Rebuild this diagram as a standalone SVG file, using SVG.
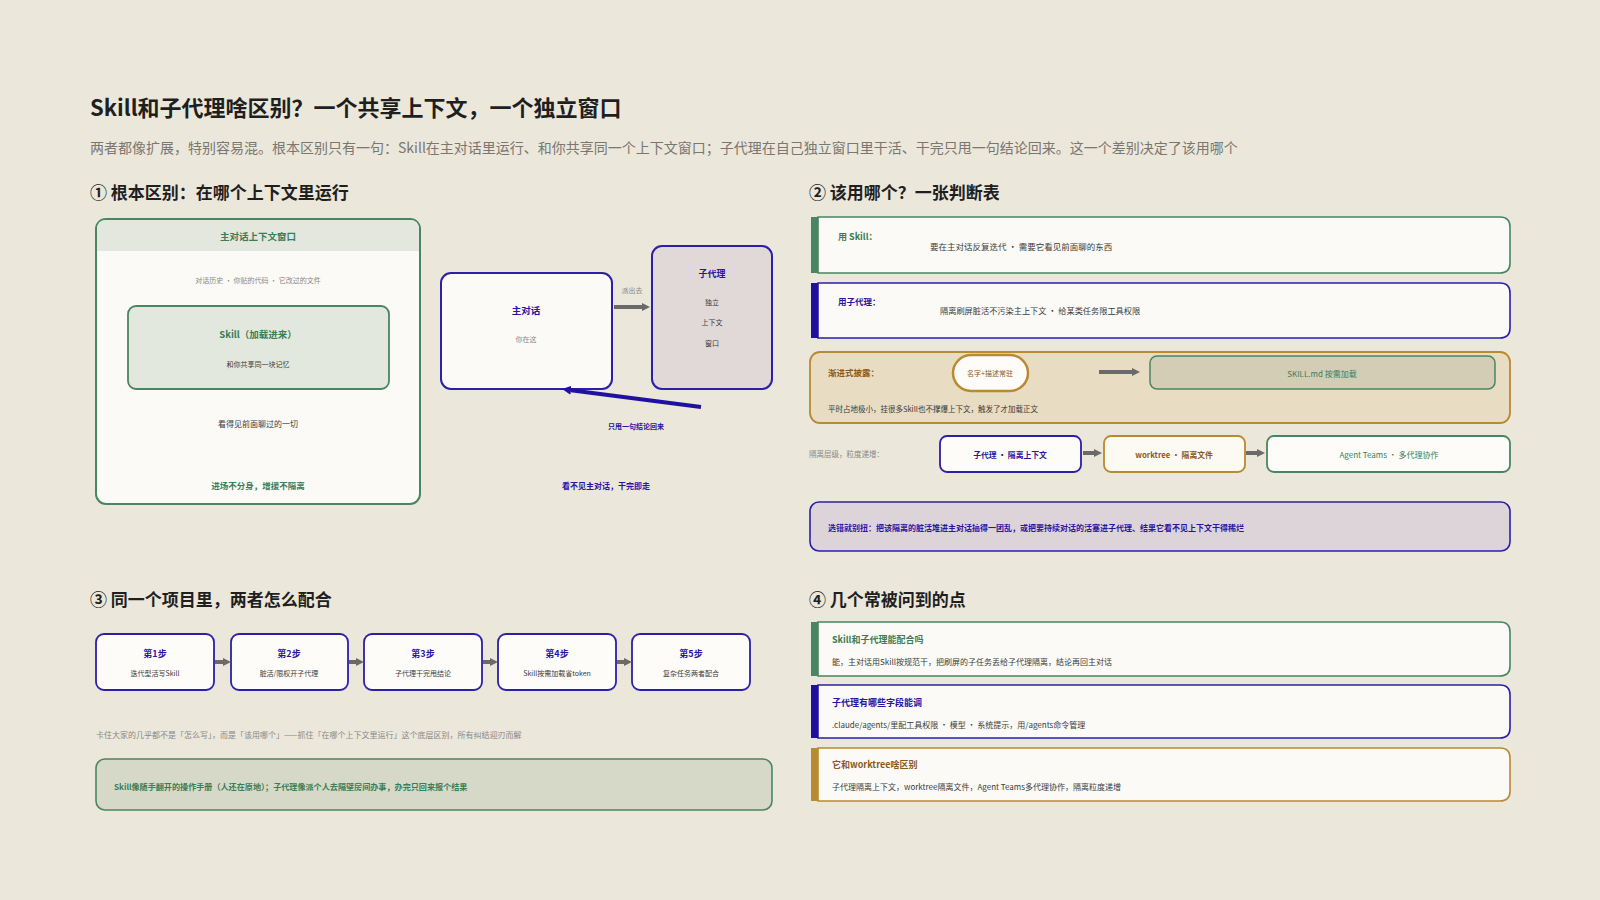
<svg xmlns="http://www.w3.org/2000/svg" width="1600" height="900" viewBox="0 0 1600 900">
<defs>
<style>
text{font-family:"Noto Sans CJK SC","Noto Sans",sans-serif;dominant-baseline:central}
.h1{font-size:22px;font-weight:700;fill:#1f1f1f}
.sub{font-size:14px;fill:#7a7670}
.h2{font-size:17px;font-weight:700;fill:#1f1f1f}
.g{fill:#3a7d57}.i{fill:#2a14a0}.a{fill:#8a5a1c}.d{fill:#3a3a3a}.m{fill:#888}
.b{font-weight:700}
.c{text-anchor:middle}
.gs{stroke:#4a8562}.is{stroke:#2d1fa8}.as{stroke:#b98a30}
.card{fill:#fbfaf6;stroke-width:1.6}
.arr{stroke:#6a6a6a;stroke-width:4;fill:none}
</style>
<marker id="ah" viewBox="0 0 10 10" refX="0" refY="5" markerUnits="userSpaceOnUse" markerWidth="8" markerHeight="8" orient="auto"><path d="M0,0L10,5L0,10z" fill="#6a6a6a"/></marker>
<marker id="ahi" viewBox="0 0 10 10" refX="0" refY="5" markerUnits="userSpaceOnUse" markerWidth="9" markerHeight="9" orient="auto"><path d="M0,0L10,5L0,10z" fill="#2010a0"/></marker>
</defs>
<rect width="1600" height="900" fill="#ebe7db"/>

<text class="h1" x="90" y="106">Skill和子代理啥区别？一个共享上下文，一个独立窗口</text>
<text class="sub" x="90" y="147">两者都像扩展，特别容易混。根本区别只有一句：Skill在主对话里运行、和你共享同一个上下文窗口；子代理在自己独立窗口里干活、干完只甩一句结论回来。这一个差别决定了该用哪个</text>

<text class="h2" x="90" y="191">① 根本区别：在哪个上下文里运行</text>
<text class="h2" x="809" y="191">② 该用哪个？一张判断表</text>
<text class="h2" x="90" y="598">③ 同一个项目里，两者怎么配合</text>
<text class="h2" x="809" y="598">④ 几个常被问到的点</text>

<!-- Section 1 -->
<g id="main-context">
<rect x="96" y="219" width="324" height="285" rx="10" fill="#fbfaf6" stroke="#4a8562" stroke-width="2"/>
<path d="M97,251 V229 Q97,220 106,220 H410 Q419,220 419,229 V251 Z" fill="#e3e7de"/>
<text class="g b c" x="258" y="236" font-size="9.5">主对话上下文窗口</text>
<text class="m c" x="258" y="280" font-size="7">对话历史 · 你贴的代码 · 它改过的文件</text>
<text class="d c" x="258" y="423" font-size="8">看得见前面聊过的一切</text>
<text class="g b c" x="258" y="485" font-size="8.5">进场不分身，增援不隔离</text>
</g>
<g id="skill-box">
<rect x="128" y="306" width="261" height="83" rx="8" fill="#e3e8df" stroke="#4a8562" stroke-width="1.8"/>
<text class="g b c" x="258" y="334" font-size="9.5">Skill（加载进来）</text>
<text class="d c" x="258" y="364" font-size="7">和你共享同一块记忆</text>
</g>
<g id="main-dialog">
<rect x="441" y="273" width="171" height="116" rx="10" fill="#fbfaf7" stroke="#2d1fa8" stroke-width="2"/>
<text class="i b c" x="526" y="310" font-size="9.5">主对话</text>
<text class="m c" x="526" y="339" font-size="7">你在这</text>
</g>
<g id="subagent">
<rect x="652" y="246" width="120" height="143" rx="10" fill="#e0d9d7" stroke="#2d1fa8" stroke-width="2"/>
<text class="i b c" x="712" y="273" font-size="9">子代理</text>
<text class="d c" x="712" y="302" font-size="7">独立</text>
<text class="d c" x="712" y="322" font-size="7">上下文</text>
<text class="d c" x="712" y="343" font-size="7">窗口</text>
</g>
<g id="connectors-1">
<line class="arr" x1="614" y1="307" x2="642" y2="307" marker-end="url(#ah)"/>
<text class="m c" x="632" y="290" font-size="7">派出去</text>
<line x1="701" y1="407" x2="571" y2="390.2" stroke="#2010a0" stroke-width="4" marker-end="url(#ahi)"/>
<text class="i b c" x="636" y="426" font-size="7">只甩一句结论回来</text>
<text class="i b c" x="606" y="485" font-size="8">看不见主对话，干完即走</text>
</g>

<!-- Section 2 -->
<g id="use-skill">
<path class="card gs" d="M818,217 H1500 Q1510,217 1510,227 V263 Q1510,273 1500,273 H818 Z"/>
<rect x="811" y="217" width="7" height="56" fill="#4a8562"/>
<text class="g b" x="838" y="236" font-size="9">用 Skill：</text>
<text class="d" x="930" y="246" font-size="8.5">要在主对话反复迭代 · 需要它看见前面聊的东西</text>
</g>
<g id="use-subagent">
<path class="card is" d="M818,283 H1500 Q1510,283 1510,293 V328 Q1510,338 1500,338 H818 Z"/>
<rect x="811" y="283" width="7" height="55" fill="#2010a0"/>
<text class="i b" x="838" y="301" font-size="8.5">用子代理：</text>
<text class="d" x="940" y="310" font-size="8.2">隔离刷屏脏活不污染主上下文 · 给某类任务限工具权限</text>
</g>
<g id="progressive">
<rect x="810" y="352" width="700" height="71" rx="10" fill="#e8dcc2" stroke="#b98a30" stroke-width="1.8"/>
<text class="a b" x="828" y="372" font-size="8.5">渐进式披露：</text>
<text class="d" x="828" y="408" font-size="7.5">平时占地极小，挂很多Skill也不撑爆上下文，触发了才加载正文</text>
</g>
<g id="name-desc">
<rect x="953" y="355" width="75" height="36" rx="18" fill="#fdfcf8" stroke="#b98a30" stroke-width="2.5"/>
<text class="a c" x="990" y="373" font-size="7">名字+描述常驻</text>
</g>
<g id="skillmd">
<rect x="1150" y="356" width="345" height="33" rx="7" fill="#d3cdb5" stroke="#4a8562" stroke-width="1.5"/>
<text class="g c" x="1322" y="373" font-size="8">SKILL.md 按需加载</text>
</g>
<text class="m" x="809" y="453" font-size="7.5">隔离层级，粒度递增：</text>
<g id="iso-subagent">
<rect x="940" y="436" width="141" height="36" rx="7" fill="#fdfcf9" stroke="#2d1fa8" stroke-width="1.8"/>
<text class="i b c" x="1010" y="454" font-size="7.8">子代理 · 隔离上下文</text>
</g>
<g id="iso-worktree">
<rect x="1104" y="436" width="141" height="36" rx="7" fill="#fdfaf3" stroke="#b98a30" stroke-width="1.8"/>
<text class="a b c" x="1174" y="454" font-size="7.8">worktree · 隔离文件</text>
</g>
<g id="iso-teams">
<rect x="1267" y="436" width="243" height="36" rx="7" fill="#fdfcf9" stroke="#4a8562" stroke-width="1.8"/>
<text class="g c" x="1389" y="454" font-size="8">Agent Teams · 多代理协作</text>
</g>
<g id="wrong-choice">
<rect x="810" y="502" width="700" height="49" rx="9" fill="#dcd4d9" stroke="#2d1fa8" stroke-width="1.6"/>
<text class="i b" x="828" y="527" font-size="8">选错就别扭：把该隔离的脏活堆进主对话搞得一团乱，或把要持续对话的活塞进子代理、结果它看不见上下文干得稀烂</text>
</g>
<g id="connectors-2">
<line class="arr" x1="1099" y1="372" x2="1132" y2="372" marker-end="url(#ah)"/>
<line class="arr" stroke-width="3" x1="1083" y1="453" x2="1094" y2="453" marker-end="url(#ah)"/>
<line class="arr" stroke-width="3" x1="1246" y1="453" x2="1257" y2="453" marker-end="url(#ah)"/>
</g>

<!-- Section 3 -->
<g id="step1"><rect x="96" y="634" width="118" height="56" rx="8" fill="#fdfcf9" stroke="#2d1fa8" stroke-width="1.8"/>
<text class="i b c" x="155" y="653" font-size="9">第1步</text><text class="d c" x="155" y="673" font-size="7">迭代型活写Skill</text></g>
<g id="step2"><rect x="231" y="634" width="117" height="56" rx="8" fill="#fdfcf9" stroke="#2d1fa8" stroke-width="1.8"/>
<text class="i b c" x="289" y="653" font-size="9">第2步</text><text class="d c" x="289" y="673" font-size="7">脏活/限权开子代理</text></g>
<g id="step3"><rect x="364" y="634" width="118" height="56" rx="8" fill="#fdfcf9" stroke="#2d1fa8" stroke-width="1.8"/>
<text class="i b c" x="423" y="653" font-size="9">第3步</text><text class="d c" x="423" y="673" font-size="7">子代理干完甩结论</text></g>
<g id="step4"><rect x="498" y="634" width="118" height="56" rx="8" fill="#fdfcf9" stroke="#2d1fa8" stroke-width="1.8"/>
<text class="i b c" x="557" y="653" font-size="9">第4步</text><text class="d c" x="557" y="673" font-size="7">Skill按需加载省token</text></g>
<g id="step5"><rect x="632" y="634" width="118" height="56" rx="8" fill="#fdfcf9" stroke="#2d1fa8" stroke-width="1.8"/>
<text class="i b c" x="691" y="653" font-size="9">第5步</text><text class="d c" x="691" y="673" font-size="7">复杂任务两者配合</text></g>
<g id="connectors-3">
<line class="arr" stroke-width="3" x1="215" y1="662" x2="223" y2="662" marker-end="url(#ah)"/>
<line class="arr" stroke-width="3" x1="349" y1="662" x2="356" y2="662" marker-end="url(#ah)"/>
<line class="arr" stroke-width="3" x1="483" y1="662" x2="490" y2="662" marker-end="url(#ah)"/>
<line class="arr" stroke-width="3" x1="617" y1="662" x2="624" y2="662" marker-end="url(#ah)"/>
</g>
<text class="m" x="96" y="734" font-size="8">卡住大家的几乎都不是「怎么写」，而是「该用哪个」——抓住「在哪个上下文里运行」这个底层区别，所有纠结迎刃而解</text>
<g id="analogy">
<rect x="96" y="759" width="676" height="51" rx="9" fill="#d7d9c8" stroke="#4a8562" stroke-width="1.6"/>
<text class="g b" x="114" y="786" font-size="8.1">Skill像随手翻开的操作手册（人还在原地）；子代理像派个人去隔壁房间办事，办完只回来报个结果</text>
</g>

<!-- Section 4 -->
<g id="faq1">
<path class="card gs" d="M818,622 H1500 Q1510,622 1510,632 V666 Q1510,676 1500,676 H818 Z"/>
<rect x="811" y="622" width="7" height="54" fill="#4a8562"/>
<text class="g b" x="832" y="639" font-size="9">Skill和子代理能配合吗</text>
<text class="d" x="832" y="661" font-size="8">能，主对话用Skill按规范干，把刷屏的子任务丢给子代理隔离，结论再回主对话</text>
</g>
<g id="faq2">
<path class="card is" d="M818,685 H1500 Q1510,685 1510,695 V728 Q1510,738 1500,738 H818 Z"/>
<rect x="811" y="685" width="7" height="53" fill="#2010a0"/>
<text class="i b" x="832" y="702" font-size="9">子代理有哪些字段能调</text>
<text class="d" x="832" y="724" font-size="8">.claude/agents/里配工具权限 · 模型 · 系统提示，用/agents命令管理</text>
</g>
<g id="faq3">
<path class="card as" d="M818,748 H1500 Q1510,748 1510,758 V791 Q1510,801 1500,801 H818 Z"/>
<rect x="811" y="748" width="7" height="53" fill="#b98a30"/>
<text class="a b" x="832" y="764" font-size="9">它和worktree啥区别</text>
<text class="d" x="832" y="786" font-size="8">子代理隔离上下文，worktree隔离文件，Agent Teams多代理协作，隔离粒度递增</text>
</g>
</svg>
